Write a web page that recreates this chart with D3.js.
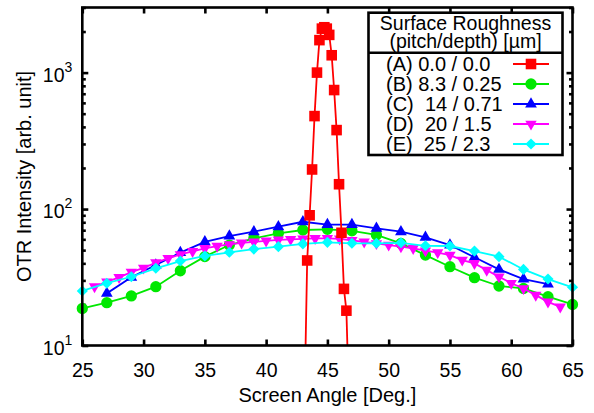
<!DOCTYPE html>
<html>
<head>
<meta charset="utf-8">
<script src="https://cdn.jsdelivr.net/npm/d3@7"></script>
<style>
  body { margin: 0; background: #fff; }
  text { font-family: "Liberation Sans", Arial, sans-serif; fill: #000; }
</style>
</head>
<body>
<div id="chart"></div>
<script>
// ===== data =====
// (A) 0.0 / 0.0  -- narrow peak, 0.2 deg steps (first/last points fall below the axis)
const angleA = [43.15, 43.35, 43.55, 43.75, 43.95, 44.15, 44.35, 44.55, 44.75, 44.95, 45.15,
                45.35, 45.55, 45.75, 45.95, 46.15, 46.35, 46.55, 46.75];
const intensA = [4.6, 42, 90, 195, 480, 1000, 1730, 2100, 2150, 2100, 1890,
                 1340, 745, 379, 152, 67, 26, 18, 4.2];
// (B) 8.3 / 0.25
const angleB = [25, 27, 29, 31, 33, 35, 37, 39, 41, 43, 45, 47, 49, 51, 53, 55, 57, 59, 61, 63, 65];
const intensB = [18.7, 20.6, 23.1, 27, 35.3, 44.8, 54.5, 61, 66.4, 70.2, 71,
                 69.3, 64.6, 56, 46, 37.8, 31.4, 27.3, 26.2, 22.8, 20];
// (C) 14 / 0.71
const angleC = [27, 29, 31, 33, 35, 37, 39, 41, 43, 45, 47, 49, 51, 53, 55, 57, 59, 61, 63];
const intensC = [24.1, 31.6, 38.9, 47.9, 57.5, 63.4, 68.2, 74.2, 80.7, 77, 77,
                 72.3, 68.2, 62.1, 54.5, 44.3, 36.1, 30.7, 28.2];
// (D) 20 / 1.5  -- 1 deg steps
const angleD = d3.range(26, 65);
const intensD = [27, 29.3, 31.6, 34.5, 37, 40.5, 43.5, 46.5, 49, 51.5,
                 53.5, 55, 56.5, 57.5, 58.5, 59.5, 60, 60.5, 61, 61,
                 60.5, 59, 57.5, 56, 54.5, 53, 51.5, 49.5, 48, 46,
                 42.3, 40, 35.7, 31.9, 28.6, 26.2, 23.4, 20.9, 19.2];
// (E) 25 / 2.3
const angleE = [25, 27, 29, 31, 33, 35, 37, 39, 41, 43, 45, 47, 49, 51, 53, 55, 57, 59, 61, 63, 65];
const intensE = [25.1, 28.6, 31.9, 36.8, 41.6, 45.3, 48.2, 50.9, 53, 55.5, 57,
                 56.1, 56.1, 56.6, 53.8, 53.6, 49.2, 44.8, 36.1, 30.7, 26.7];

const legendTitle = ["Surface Roughness", "(pitch/depth) [\u00b5m]"];
const seriesLabels = ["(A) 0.0 / 0.0", "(B) 8.3 / 0.25", "(C)  14 / 0.71", "(D)  20 / 1.5", "(E)  25 / 2.3"];
const xTicks = [25, 30, 35, 40, 45, 50, 55, 60, 65];
const yTicks = [10, 100, 1000];
const xTitle = "Screen Angle [Deg.]";
const yTitle = "OTR Intensity [arb. unit]";

// ===== layout =====
const W = 594, H = 413;
const box = {x1: 82.3, x2: 572.5, y1: 7.5, y2: 345.5};

const series = [
  {label: seriesLabels[0], xs: angleA, ys: intensA, color: "#ff0000", sym: "square"},
  {label: seriesLabels[1], xs: angleB, ys: intensB, color: "#00e800", sym: "circle"},
  {label: seriesLabels[2], xs: angleC, ys: intensC, color: "#0000ff", sym: "triUp"},
  {label: seriesLabels[3], xs: angleD, ys: intensD, color: "#ff00ff", sym: "triDown"},
  {label: seriesLabels[4], xs: angleE, ys: intensE, color: "#00ffff", sym: "diamond"}
];

const x = d3.scaleLinear().domain([25, 65]).range([box.x1, box.x2]);
const y = d3.scaleLog().domain([10, 3000]).range([box.y2, box.y1]);

const svg = d3.select("#chart").append("svg")
  .attr("width", W).attr("height", H)
  .attr("viewBox", "0 0 " + W + " " + H);

svg.append("defs").append("clipPath").attr("id", "plotClip")
  .append("rect")
  .attr("x", box.x1).attr("y", box.y1)
  .attr("width", box.x2 - box.x1).attr("height", box.y2 - box.y1);

function markerPath(kind) {
  switch (kind) {
    case "square":  return d3.symbol(d3.symbolSquare, 112)();
    case "circle":  return d3.symbol(d3.symbolCircle, 100)();
    case "triUp":   return d3.symbol(d3.symbolTriangle, 60)();
    case "triDown": return d3.symbol(d3.symbolTriangle, 56)();
    case "diamond": return d3.symbol(d3.symbolSquare, 62)();
  }
}
function markerRot(kind) {
  if (kind == "triDown") return " rotate(180)";
  if (kind == "diamond") return " rotate(45)";
  return "";
}

// ===== axes (ticks point inward, mirrored on top/right) =====
const axisStroke = 2.6;
function styleAxis(g) {
  g.select(".domain").remove();
  g.selectAll(".tick line").attr("stroke", "#000").attr("stroke-width", axisStroke);
}

// minor log ticks on left/right
const minorY = y.ticks().filter(v => yTicks.indexOf(v) < 0);

const gx = svg.append("g")
  .attr("transform", "translate(0," + box.y2 + ")")
  .call(d3.axisBottom(x).tickValues(xTicks).tickSizeInner(-6).tickSizeOuter(0).tickPadding(17.5).tickFormat(d3.format("d")));
styleAxis(gx);
gx.selectAll(".tick text").attr("font-size", "19.5px").attr("fill", "#000")
  .style("font-family", '"Liberation Sans", Arial, sans-serif');

const gxTop = svg.append("g")
  .attr("transform", "translate(0," + box.y1 + ")")
  .call(d3.axisTop(x).tickValues(xTicks).tickSizeInner(-6).tickSizeOuter(0).tickFormat(""));
styleAxis(gxTop);

const gy = svg.append("g")
  .attr("transform", "translate(" + box.x1 + ",0)")
  .call(d3.axisLeft(y).tickValues(yTicks).tickSizeInner(-6).tickSizeOuter(0).tickFormat(""));
styleAxis(gy);
gy.selectAll(".tick text").each(function(d) {
  const t = d3.select(this).attr("font-size", "19.5px").attr("fill", "#000")
    .style("font-family", '"Liberation Sans", Arial, sans-serif')
    .attr("x", -10).attr("dy", "0.44em");
  t.append("tspan").text("10");
  t.append("tspan").attr("dy", "-0.72em").attr("font-size", "14px").text(Math.round(Math.log10(d)));
});

const gyMinor = svg.append("g")
  .attr("transform", "translate(" + box.x1 + ",0)")
  .call(d3.axisLeft(y).tickValues(minorY).tickSizeInner(-3.5).tickSizeOuter(0).tickFormat(""));
styleAxis(gyMinor);

const gyR = svg.append("g")
  .attr("transform", "translate(" + box.x2 + ",0)")
  .call(d3.axisRight(y).tickValues(yTicks).tickSizeInner(-6).tickSizeOuter(0).tickFormat(""));
styleAxis(gyR);
const gyRMinor = svg.append("g")
  .attr("transform", "translate(" + box.x2 + ",0)")
  .call(d3.axisRight(y).tickValues(minorY).tickSizeInner(-3.5).tickSizeOuter(0).tickFormat(""));
styleAxis(gyRMinor);

// axis titles
svg.append("text")
  .attr("x", (box.x1 + box.x2) / 2).attr("y", 402)
  .attr("text-anchor", "middle").attr("font-size", "20px")
  .text(xTitle);
svg.append("text")
  .attr("transform", "translate(31," + ((box.y1 + box.y2) / 2) + ") rotate(-90)")
  .attr("text-anchor", "middle").attr("font-size", "20px")
  .text(yTitle);

// ===== data =====
const line = d3.line().x(d => x(d[0])).y(d => y(d[1]));
const drawOrder = [1, 2, 3, 4, 0];
const plot = svg.append("g");
for (const i of drawOrder) {
  const s = series[i];
  const pts = s.xs.map((v, k) => [v, s.ys[k]]);
  plot.append("path")
    .attr("clip-path", "url(#plotClip)")
    .attr("fill", "none").attr("stroke", s.color).attr("stroke-width", 1.8)
    .attr("d", line(pts));
  plot.append("g").selectAll("path")
    .data(pts.filter(p => p[1] >= 10))
    .join("path")
    .attr("d", markerPath(s.sym))
    .attr("transform", p => "translate(" + x(p[0]) + "," + y(p[1]) + ")" + markerRot(s.sym))
    .attr("fill", s.color);
}

// frame
svg.append("rect")
  .attr("x", box.x1).attr("y", box.y1)
  .attr("width", box.x2 - box.x1).attr("height", box.y2 - box.y1)
  .attr("fill", "none").attr("stroke", "#000").attr("stroke-width", axisStroke);

// ===== legend =====
const lg = {x1: 368.5, x2: 562.5, y1: 12.7, y2: 155, div: 52.7};
const legend = svg.append("g");
legend.append("rect")
  .attr("x", lg.x1).attr("y", lg.y1)
  .attr("width", lg.x2 - lg.x1).attr("height", lg.y2 - lg.y1)
  .attr("fill", "#fff").attr("stroke", "#000").attr("stroke-width", axisStroke);
legend.append("line")
  .attr("x1", lg.x1).attr("x2", lg.x2).attr("y1", lg.div).attr("y2", lg.div)
  .attr("stroke", "#000").attr("stroke-width", axisStroke);
legend.selectAll("text.title")
  .data(legendTitle).join("text")
  .attr("class", "title")
  .attr("x", (lg.x1 + lg.x2) / 2).attr("y", (d, i) => 29.5 + i * 18.5)
  .attr("text-anchor", "middle").attr("font-size", "19.5px")
  .text(d => d);

series.forEach((s, i) => {
  const cy = 64 + i * 20;
  legend.append("text")
    .attr("x", 386).attr("y", cy + 7)
    .attr("font-size", "20px")
    .style("white-space", "pre")
    .attr("xml:space", "preserve")
    .text(s.label);
  legend.append("line")
    .attr("x1", 513).attr("x2", 549).attr("y1", cy).attr("y2", cy)
    .attr("stroke", s.color).attr("stroke-width", 1.8);
  legend.append("path")
    .attr("d", markerPath(s.sym))
    .attr("transform", "translate(531," + cy + ")" + markerRot(s.sym))
    .attr("fill", s.color);
});
</script>
</body>
</html>
